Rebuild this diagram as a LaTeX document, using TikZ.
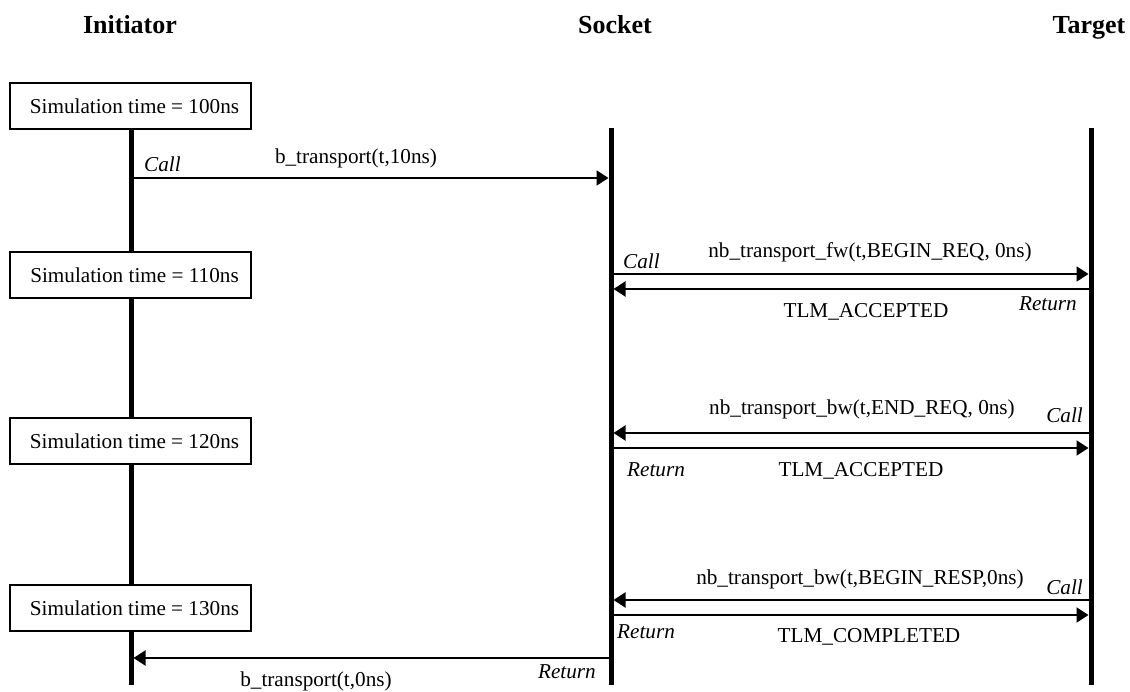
\documentclass[tikz,border=0pt]{standalone}
\usepackage{fontspec}
\setmainfont{Liberation Serif}
\usetikzlibrary{arrows.meta}
\begin{document}
\begin{tikzpicture}[x=1pt,y=-1pt,
  hdr/.style={font=\fontsize{26}{28}\selectfont\bfseries, anchor=base, inner sep=0pt},
  lbl/.style={font=\fontsize{21.2}{24}\selectfont, anchor=base, inner sep=0pt},
  ital/.style={font=\fontsize{21.2}{24}\selectfont\itshape, anchor=base, inner sep=0pt},
  timebox/.style={draw, line width=1.5pt, fill=white, minimum width=241pt, minimum height=46pt, inner sep=0pt, font=\fontsize{21.2}{24}\selectfont},
  lifeline/.style={line width=5pt},
  msg/.style={line width=2pt, -{Triangle[length=12pt,width=15pt]}}
]
\useasboundingbox (0,0) rectangle (1130,692);
% headers
\node[hdr] (hI) at (130,34) {Initiator};
\node[hdr] (hS) at (615,34) {Socket};
\node[hdr] (hT) at (1089,34) {Target};
% lifelines
\coordinate (Itop) at (131,128);
\coordinate (Ibot) at (131,685);
\coordinate (Stop) at (611,128);
\coordinate (Sbot) at (611,685);
\coordinate (Ttop) at (1091,128);
\coordinate (Tbot) at (1091,685);
\draw[lifeline] (Itop) -- (Ibot);
\draw[lifeline] (Stop) -- (Sbot);
\draw[lifeline] (Ttop) -- (Tbot);
% time boxes
\node[timebox] (b1) at (130.5,106) {\hspace*{8pt}Simulation time = 100ns};
\node[timebox] (b2) at (130.5,275) {\hspace*{8pt}Simulation time = 110ns};
\node[timebox] (b3) at (130.5,441) {\hspace*{8pt}Simulation time = 120ns};
\node[timebox] (b4) at (130.5,608) {\hspace*{8pt}Simulation time = 130ns};
% message end points (lifeline edges)
\coordinate (i1) at (133.5,178); \coordinate (s1) at (608.5,178);
\coordinate (s2) at (613.5,274); \coordinate (t2) at (1088.5,274);
\coordinate (t3) at (1088.5,289); \coordinate (s3) at (613.5,289);
\coordinate (t4) at (1088.5,433); \coordinate (s4) at (613.5,433);
\coordinate (s5) at (613.5,448); \coordinate (t5) at (1088.5,448);
\coordinate (t6) at (1088.5,600); \coordinate (s6) at (613.5,600);
\coordinate (s7) at (613.5,615); \coordinate (t7) at (1088.5,615);
\coordinate (s8) at (608.5,658); \coordinate (i8) at (133.5,658);
% messages
\draw[msg] (i1) -- (s1);
\draw[msg] (s2) -- (t2);
\draw[msg] (t3) -- (s3);
\draw[msg] (t4) -- (s4);
\draw[msg] (s5) -- (t5);
\draw[msg] (t6) -- (s6);
\draw[msg] (s7) -- (t7);
\draw[msg] (s8) -- (i8);
% labels
\node[lbl] (l1) at (356,164) {b\_transport(t,10ns)};
\node[ital, anchor=base west] (c1) at (144,172) {Call};
\node[lbl] (l2) at (870,258) {nb\_transport\_fw(t,BEGIN\_REQ, 0ns)};
\node[ital, anchor=base west] (c2) at (623,269) {Call};
\node[lbl] (l3) at (866,318) {TLM\_ACCEPTED};
\node[ital, anchor=base east] (r3) at (1077,311) {Return};
\node[lbl] (l4) at (862,414) {nb\_transport\_bw(t,END\_REQ, 0ns)};
\node[ital, anchor=base east] (c4) at (1083,423) {Call};
\node[lbl] (l5) at (861,476) {TLM\_ACCEPTED};
\node[ital, anchor=base west] (r5) at (627,476) {Return};
\node[lbl] (l6) at (860,584) {nb\_transport\_bw(t,BEGIN\_RESP,0ns)};
\node[ital, anchor=base east] (c6) at (1083,594) {Call};
\node[lbl] (l7) at (869,642) {TLM\_COMPLETED};
\node[ital, anchor=base west] (r7) at (617,638) {Return};
\node[lbl] (l8) at (316,686) {b\_transport(t,0ns)};
\node[ital, anchor=base east] (r8) at (596,678) {Return};
\end{tikzpicture}
\end{document}
